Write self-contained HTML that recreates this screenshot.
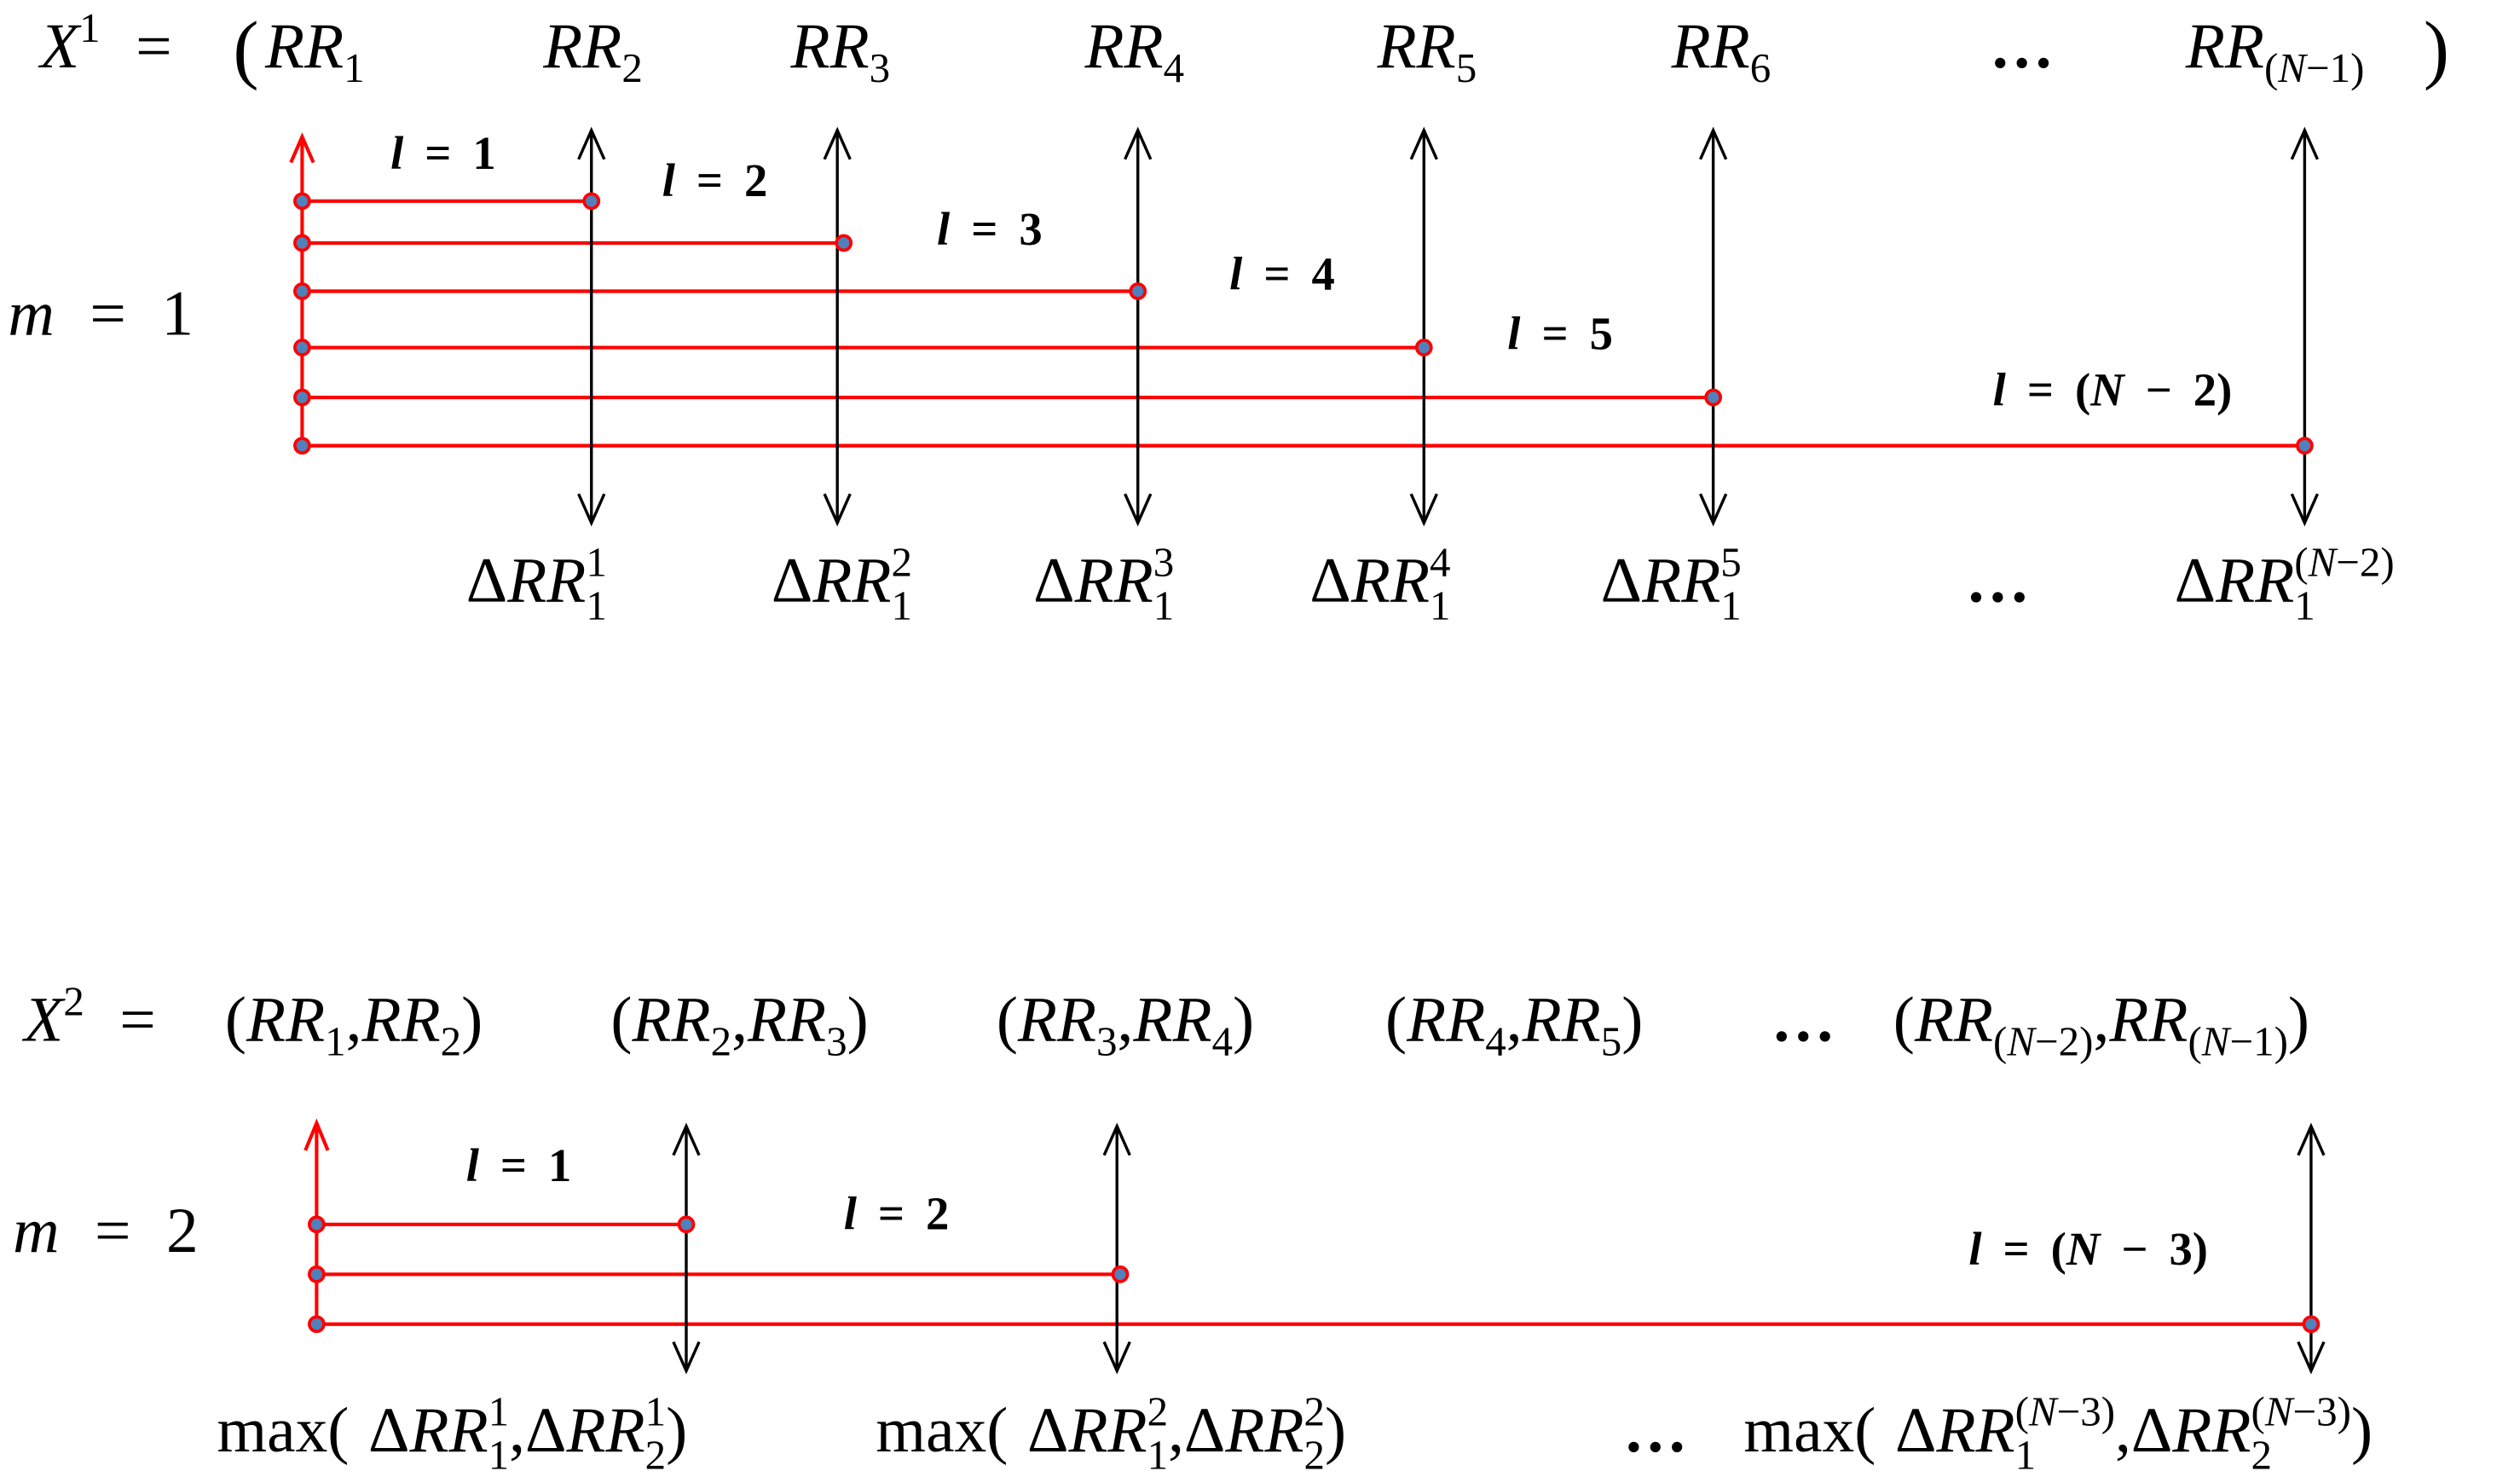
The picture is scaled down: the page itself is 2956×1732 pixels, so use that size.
<!DOCTYPE html>
<html><head><meta charset="utf-8"><style>
html,body{margin:0;padding:0;background:#fff}
svg{display:block}
text{font-family:"Liberation Serif",serif;fill:#000}
.m{font-style:italic;font-size:40px;word-spacing:6px}
.n{font-style:normal}
.b{font-weight:bold;font-style:italic;font-size:29px;word-spacing:6px}
.s{font-size:26px}
</style></head><body>
<svg width="2956" height="1732" viewBox="0 0 1568 918" preserveAspectRatio="none" xmlns="http://www.w3.org/2000/svg">
<defs>
<g id="dot"><circle r="4.5" fill="#4f81bd" stroke="#f00" stroke-width="2"/></g>
</defs>
<text class="m" x="25" y="42">X<tspan class="s n" dy="-16">1</tspan><tspan class="n" dy="16" dx="22">=</tspan></text>
<text class="n" x="145" y="46" style="font-size:48px">(</text>
<text class="m" x="165" y="42">RR<tspan class="s n" dy="9">1</tspan></text>
<text class="m" x="338" y="42">RR<tspan class="s n" dy="9">2</tspan></text>
<text class="m" x="492" y="42">RR<tspan class="s n" dy="9">3</tspan></text>
<text class="m" x="675" y="42">RR<tspan class="s n" dy="9">4</tspan></text>
<text class="m" x="857" y="42">RR<tspan class="s n" dy="9">5</tspan></text>
<text class="m" x="1040" y="42">RR<tspan class="s n" dy="9">6</tspan></text>
<text class="m n" x="1238" y="42" font-weight="bold">…</text>
<text class="m" x="1360" y="42">RR<tspan class="s n" dy="9">(</tspan><tspan class="s">N</tspan><tspan class="s n">−1)</tspan></text>
<text class="n" x="1508" y="46" style="font-size:48px">)</text>

<text class="m" x="5" y="208" style="word-spacing:12px">m <tspan class="n">= 1</tspan></text>

<g stroke="#f00" stroke-width="2.2" fill="none">
<line x1="188" y1="85" x2="188" y2="277"/>
<polyline points="181,101 188,85 195,101"/>
<line x1="188" y1="125" x2="368" y2="125"/>
<line x1="188" y1="151" x2="525" y2="151"/>
<line x1="188" y1="181" x2="708" y2="181"/>
<line x1="188" y1="216" x2="886" y2="216"/>
<line x1="188" y1="247" x2="1066" y2="247"/>
<line x1="188" y1="277" x2="1434" y2="277"/>
</g>
<g stroke="#000" stroke-width="1.8" fill="none">
<line x1="368" y1="81" x2="368" y2="325"/><polyline points="360,99 368,81 376,99"/><polyline points="360,307 368,325 376,307"/>
<line x1="521" y1="81" x2="521" y2="325"/><polyline points="513,99 521,81 529,99"/><polyline points="513,307 521,325 529,307"/>
<line x1="708" y1="81" x2="708" y2="325"/><polyline points="700,99 708,81 716,99"/><polyline points="700,307 708,325 716,307"/>
<line x1="886" y1="81" x2="886" y2="325"/><polyline points="878,99 886,81 894,99"/><polyline points="878,307 886,325 894,307"/>
<line x1="1066" y1="81" x2="1066" y2="325"/><polyline points="1058,99 1066,81 1074,99"/><polyline points="1058,307 1066,325 1074,307"/>
<line x1="1434" y1="81" x2="1434" y2="325"/><polyline points="1426,99 1434,81 1442,99"/><polyline points="1426,307 1434,325 1442,307"/>
</g>
<use href="#dot" x="188" y="125"/><use href="#dot" x="188" y="151"/><use href="#dot" x="188" y="181"/>
<use href="#dot" x="188" y="216"/><use href="#dot" x="188" y="247"/><use href="#dot" x="188" y="277"/>
<use href="#dot" x="368" y="125"/><use href="#dot" x="525" y="151"/><use href="#dot" x="708" y="181"/>
<use href="#dot" x="886" y="216"/><use href="#dot" x="1066" y="247"/><use href="#dot" x="1434" y="277"/>

<text class="b" x="243" y="105">l <tspan class="n">= 1</tspan></text>
<text class="b" x="412" y="122">l <tspan class="n">= 2</tspan></text>
<text class="b" x="583" y="152">l <tspan class="n">= 3</tspan></text>
<text class="b" x="765" y="180">l <tspan class="n">= 4</tspan></text>
<text class="b" x="938" y="217">l <tspan class="n">= 5</tspan></text>
<text class="b" x="1240" y="252">l <tspan class="n">= (</tspan>N <tspan class="n">− 2)</tspan></text>

<text class="m" x="290" y="374"><tspan class="n">Δ</tspan>RR<tspan class="s n" dy="11">1</tspan><tspan class="s n" dx="-13" dy="-27">1</tspan></text>
<text class="m" x="480" y="374"><tspan class="n">Δ</tspan>RR<tspan class="s n" dy="11">1</tspan><tspan class="s n" dx="-13" dy="-27">2</tspan></text>
<text class="m" x="643" y="374"><tspan class="n">Δ</tspan>RR<tspan class="s n" dy="11">1</tspan><tspan class="s n" dx="-13" dy="-27">3</tspan></text>
<text class="m" x="815" y="374"><tspan class="n">Δ</tspan>RR<tspan class="s n" dy="11">1</tspan><tspan class="s n" dx="-13" dy="-27">4</tspan></text>
<text class="m" x="996" y="374"><tspan class="n">Δ</tspan>RR<tspan class="s n" dy="11">1</tspan><tspan class="s n" dx="-13" dy="-27">5</tspan></text>
<text class="m n" x="1223" y="374" font-weight="bold">…</text>
<text class="m" x="1353" y="374"><tspan class="n">Δ</tspan>RR<tspan class="s n" dy="11">1</tspan><tspan class="s n" dx="-13" dy="-27">(</tspan><tspan class="s">N</tspan><tspan class="s n">−2)</tspan></text>

<text class="m" x="15" y="647">X<tspan class="s n" dy="-16">2</tspan><tspan class="n" dy="16" dx="22">=</tspan></text>
<text class="m" x="140" y="647"><tspan class="n">(</tspan>RR<tspan class="s n" dy="9">1</tspan><tspan class="n" dy="-9">,</tspan>RR<tspan class="s n" dy="9">2</tspan><tspan class="n" dy="-9">)</tspan></text>
<text class="m" x="380" y="647"><tspan class="n">(</tspan>RR<tspan class="s n" dy="9">2</tspan><tspan class="n" dy="-9">,</tspan>RR<tspan class="s n" dy="9">3</tspan><tspan class="n" dy="-9">)</tspan></text>
<text class="m" x="620" y="647"><tspan class="n">(</tspan>RR<tspan class="s n" dy="9">3</tspan><tspan class="n" dy="-9">,</tspan>RR<tspan class="s n" dy="9">4</tspan><tspan class="n" dy="-9">)</tspan></text>
<text class="m" x="862" y="647"><tspan class="n">(</tspan>RR<tspan class="s n" dy="9">4</tspan><tspan class="n" dy="-9">,</tspan>RR<tspan class="s n" dy="9">5</tspan><tspan class="n" dy="-9">)</tspan></text>
<text class="m n" x="1102" y="647" font-weight="bold">…</text>
<text class="m" x="1178" y="647"><tspan class="n">(</tspan>RR<tspan class="s n" dy="9">(</tspan><tspan class="s">N</tspan><tspan class="s n">−2)</tspan><tspan class="n" dy="-9">,</tspan>RR<tspan class="s n" dy="9">(</tspan><tspan class="s">N</tspan><tspan class="s n">−1)</tspan><tspan class="n" dy="-9">)</tspan></text>

<text class="m" x="8" y="778" style="word-spacing:12px">m <tspan class="n">= 2</tspan></text>

<g stroke="#f00" stroke-width="2.2" fill="none">
<line x1="197" y1="698" x2="197" y2="823"/>
<polyline points="190,715 197,698 204,715"/>
<line x1="197" y1="761" x2="427" y2="761"/>
<line x1="197" y1="792" x2="697" y2="792"/>
<line x1="197" y1="823" x2="1438" y2="823"/>
</g>
<g stroke="#000" stroke-width="1.8" fill="none">
<line x1="427" y1="700" x2="427" y2="852"/><polyline points="419,718 427,700 435,718"/><polyline points="419,834 427,852 435,834"/>
<line x1="695" y1="700" x2="695" y2="852"/><polyline points="687,718 695,700 703,718"/><polyline points="687,834 695,852 703,834"/>
<line x1="1438" y1="700" x2="1438" y2="852"/><polyline points="1430,718 1438,700 1446,718"/><polyline points="1430,834 1438,852 1446,834"/>
</g>
<use href="#dot" x="197" y="761"/><use href="#dot" x="197" y="792"/><use href="#dot" x="197" y="823"/>
<use href="#dot" x="427" y="761"/><use href="#dot" x="697" y="792"/><use href="#dot" x="1438" y="823"/>

<text class="b" x="290" y="734">l <tspan class="n">= 1</tspan></text>
<text class="b" x="525" y="764">l <tspan class="n">= 2</tspan></text>
<text class="b" x="1225" y="786">l <tspan class="n">= (</tspan>N <tspan class="n">− 3)</tspan></text>

<text class="m" x="135" y="902" style="word-spacing:2px"><tspan class="n">max( Δ</tspan>RR<tspan class="s n" dy="11">1</tspan><tspan class="s n" dx="-13" dy="-27">1</tspan><tspan class="n" dy="16">,Δ</tspan>RR<tspan class="s n" dy="11">2</tspan><tspan class="s n" dx="-13" dy="-27">1</tspan><tspan class="n" dy="16">)</tspan></text>
<text class="m" x="545" y="902" style="word-spacing:2px"><tspan class="n">max( Δ</tspan>RR<tspan class="s n" dy="11">1</tspan><tspan class="s n" dx="-13" dy="-27">2</tspan><tspan class="n" dy="16">,Δ</tspan>RR<tspan class="s n" dy="11">2</tspan><tspan class="s n" dx="-13" dy="-27">2</tspan><tspan class="n" dy="16">)</tspan></text>
<text class="m n" x="1010" y="902" font-weight="bold">…</text>
<text class="m" x="1085" y="902" style="word-spacing:2px"><tspan class="n">max( Δ</tspan>RR<tspan class="s n" dy="11">1</tspan><tspan class="s n" dx="-13" dy="-27">(</tspan><tspan class="s">N</tspan><tspan class="s n">−3)</tspan><tspan class="n" dy="16">,Δ</tspan>RR<tspan class="s n" dy="11">2</tspan><tspan class="s n" dx="-13" dy="-27">(</tspan><tspan class="s">N</tspan><tspan class="s n">−3)</tspan><tspan class="n" dy="16">)</tspan></text>
</svg>
</body></html>
